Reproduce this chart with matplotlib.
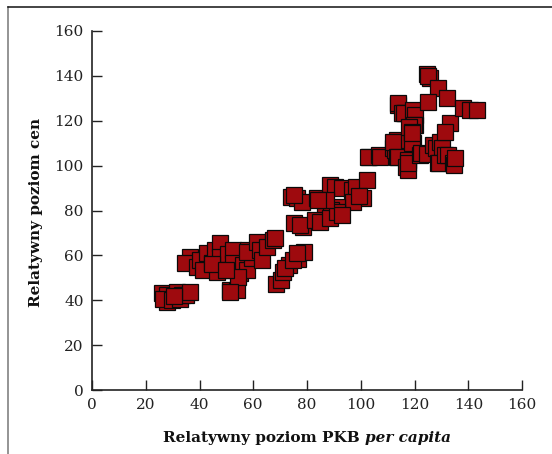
import matplotlib.pyplot as plt
from matplotlib.lines import Line2D

plt.rcParams["font.family"] = "DejaVu Serif"

# relative GDP per capita (x) vs relative price level (y)
gdp = [
    25.9, 27.8, 28.0, 26.5, 29.7, 31.5, 32.7, 33.4, 35.0, 36.5, 30.5,
    36.5, 34.6, 39.0, 40.2, 41.4, 42.7, 44.5, 45.8, 47.6, 47.6, 48.9, 49.5,
    50.5, 52.6, 52.6, 51.3, 53.8, 55.0, 56.3, 57.6, 58.2, 59.4, 57.6, 61.3,
    62.5, 63.1, 65.0, 67.5, 54.5, 46.4, 44.6, 50.0, 51.3,
    68.5, 70.3, 71.0, 73.4, 76.5, 79.0, 71.8, 74.9, 76.2,
    74.0, 76.2, 78.0, 75.0, 83.6, 86.7, 88.6, 90.5, 92.9, 96.6, 98.2, 102.2,
    100.9, 97.1, 99.5, 91.0, 89.0, 75.0, 78.6, 77.4, 83.0, 84.8, 88.6, 91.0,
    93.0, 87.0, 84.0, 68.0,
    103.0, 102.8, 106.8, 107.2, 113.0, 112.1, 112.7, 113.4, 112.1, 113.4,
    113.7, 117.0, 117.5, 117.7, 117.5, 119.3, 119.0, 122.0, 122.4, 124.5,
    127.0, 128.0, 129.5, 130.1, 128.9, 129.0, 131.3, 132.3, 134.4, 134.7,
    135.0, 114.0, 114.0, 115.2, 116.5, 116.0, 119.6, 120.2, 120.2, 119.8,
    118.0, 119.0, 119.0, 124.5, 125.8, 124.9, 128.9, 132.0, 125.1, 133.2,
    131.3, 138.2, 140.7, 143.1,
]
prices = [
    43.1, 42.3, 39.0, 40.5, 40.1, 43.8, 40.5, 42.3, 42.5, 43.8, 42.0,
    59.4, 56.5, 55.0, 57.9, 53.5, 60.9, 56.5, 62.4, 65.4, 59.4, 53.5, 55.7,
    60.5, 62.4, 56.5, 44.6, 44.6, 52.0, 55.7, 53.5, 62.4, 58.7, 61.5, 66.0,
    62.4, 57.9, 63.7, 66.8, 50.4, 52.6, 56.0, 53.5, 43.7,
    47.4, 49.0, 52.6, 55.7, 58.5, 61.5, 54.2, 57.9, 60.9,
    86.2, 85.6, 84.0, 86.8, 85.6, 82.4, 91.4, 90.5, 89.9, 89.0, 90.5, 93.6,
    85.6, 84.0, 86.5, 81.7, 80.2, 74.3, 72.8, 73.5, 75.8, 75.0, 76.5, 79.5,
    78.0, 84.7, 84.7, 67.7,
    103.8, 104.0, 104.7, 104.0, 107.0, 107.7, 107.0, 111.4, 110.6, 104.0,
    103.8, 99.5, 98.0, 102.5, 101.0, 110.0, 109.9, 104.7, 105.6, 105.4,
    109.2, 108.0, 110.6, 107.7, 101.0, 101.0, 104.7, 104.7, 101.0, 100.3,
    103.2, 127.0, 127.8, 123.3, 123.3, 123.4, 124.8, 122.5, 118.1, 118.0,
    117.0, 115.1, 114.4, 141.0, 138.9, 140.0, 134.4, 130.0, 128.5, 118.8,
    115.1, 125.5, 125.0, 125.0,
]
ticks = [0, 20, 40, 60, 80, 100, 120, 140, 160]

W, H = 552, 454
fig = plt.figure(figsize=(W / 100, H / 100), dpi=100)
ax = fig.add_axes([92 / W, (H - 390) / H, 430 / W, 359 / H])

ax.plot(gdp, prices, linestyle="none", marker="s", markersize=11.5,
        markerfacecolor="#9E0A0E", markeredgecolor="#0a0a0a", markeredgewidth=0.9)

ax.set_xlim(0, 160)
ax.set_ylim(0, 160)
ax.set_xticks(ticks)
ax.set_yticks(ticks)
for s in ["top", "right"]:
    ax.spines[s].set_visible(False)
for s in ["left", "bottom"]:
    ax.spines[s].set_color("#222222")
    ax.spines[s].set_linewidth(1.2)
ax.tick_params(direction="in", length=7, width=1, color="#222222",
               pad=6, labelsize=11, labelcolor="#222222")

# y label
fig.text(36 / W, (H - 212) / H, "Relatywny poziom cen", rotation=90,
         ha="center", va="center", fontsize=11, fontweight="bold", color="#111111")

# x label: bold part + bold italic part, centred under the axes
fig.canvas.draw()
r = fig.canvas.get_renderer()
t1 = fig.text(0, (H - 442) / H, "Relatywny poziom PKB", fontsize=11,
              fontweight="bold", va="baseline", color="#111111")
t2 = fig.text(0, (H - 442) / H, "per capita", fontsize=11, fontweight="bold",
              style="italic", va="baseline", color="#111111")
w1 = t1.get_window_extent(r).width
w2 = t2.get_window_extent(r).width
gap = 5
x0 = 307 - (w1 + gap + w2) / 2
t1.set_x(x0 / W)
t2.set_x((x0 + w1 + gap) / W)

# outer frame (left and top only)
fig.add_artist(Line2D([8 / W, 8 / W], [0, (H - 7) / H], color="#777777", lw=1.1))
fig.add_artist(Line2D([8 / W, 1], [(H - 7) / H, (H - 7) / H], color="#111111", lw=1.1))

fig.savefig("out.png", dpi=100, facecolor="white")
